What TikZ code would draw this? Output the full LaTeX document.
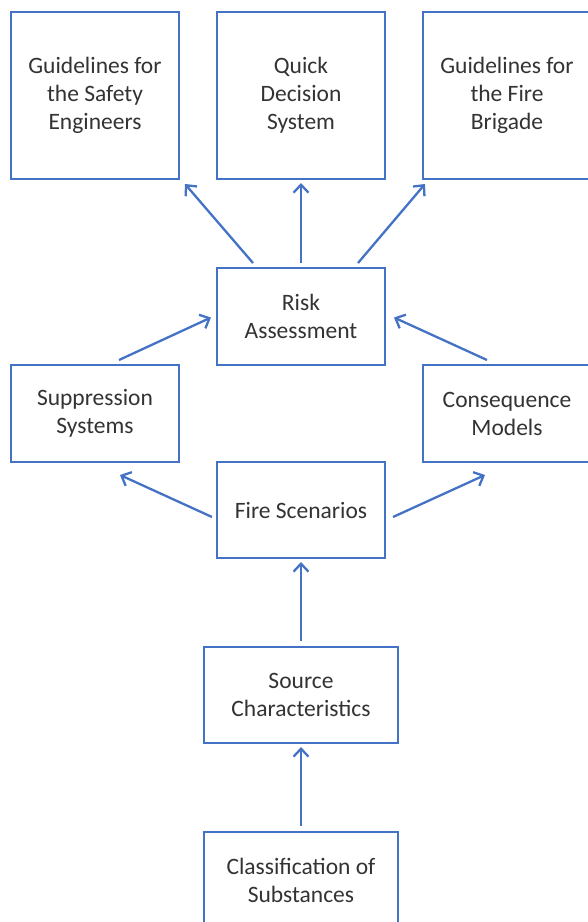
\documentclass[tikz,border=0pt]{standalone}
\usepackage{fontspec}
\setmainfont{Carlito}
\usetikzlibrary{arrows.meta}
\definecolor{boxblue}{HTML}{4472C4}
\definecolor{txtgray}{HTML}{333333}
\begin{document}
\begin{tikzpicture}[x=1pt, y=1pt,
  box/.style = {draw=boxblue, line width=2pt, fill=white, text=txtgray, align=center,
                font=\fontsize{23.5}{28}\selectfont, minimum width=#1, inner sep=0pt},
  box/.default = 168pt,
  arr/.style = {draw=boxblue, line width=2.3pt, -{Straight Barb[length=8pt, width=15pt, line width=2.3pt]}}]
\useasboundingbox (0,0) rectangle (588,-922);
\clip (0,0) rectangle (588,-922);
% outcomes
\node[box, minimum height=167pt] (engineers) at (95,-95.5) {Guidelines for\\the Safety\\Engineers};
\node[box, minimum height=167pt] (decision) at (301,-95.5) {Quick\\Decision\\System};
\node[box, minimum height=167pt] (brigade) at (507,-95.5) {Guidelines for\\the Fire\\Brigade};
% middle row
\node[box, minimum height=97pt] (risk) at (301,-316.5) {Risk\\Assessment};
\node[box, minimum height=97pt] (suppression) at (95,-413.5) {Suppression\\Systems};
\node[box, minimum height=97pt] (consequence) at (507,-413.5) {Consequence\\Models};
\node[box, minimum height=96pt] (scenarios) at (301,-510) {Fire Scenarios};
% inputs
\node[box=194pt, minimum height=96pt] (source) at (301,-695) {Source\\Characteristics};
\node[box=194pt, minimum height=96pt] (substances) at (301,-880) {Classification of\\Substances};
% arrows
\draw[arr] ([xshift=-48pt,yshift=4pt]risk.north) -- ([xshift=5pt,yshift=-4pt]engineers.south east);
\draw[arr] ([yshift=4pt]risk.north) -- ([yshift=-3pt]decision.south);
\draw[arr] ([xshift=57pt,yshift=4pt]risk.north) -- ([xshift=3pt,yshift=-4pt]brigade.south west);
\draw[arr] ([xshift=24pt,yshift=4pt]suppression.north) -- ([xshift=-5pt,yshift=-1pt]risk.west);
\draw[arr] ([xshift=-20pt,yshift=4pt]consequence.north) -- ([xshift=8pt,yshift=-1pt]risk.east);
\draw[arr] ([xshift=-4pt,yshift=-7pt]scenarios.west) -- ([xshift=25pt,yshift=-12pt]suppression.south);
\draw[arr] ([xshift=7pt,yshift=-7pt]scenarios.east) -- ([xshift=-22pt,yshift=-12pt]consequence.south);
\draw[arr] ([yshift=5pt]source.north) -- ([yshift=-3pt]scenarios.south);
\draw[arr] ([yshift=5pt]substances.north) -- ([yshift=-3pt]source.south);
\end{tikzpicture}
\end{document}
